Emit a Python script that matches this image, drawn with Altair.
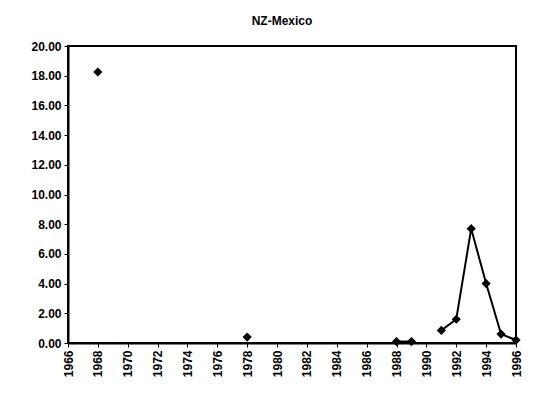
import altair as alt
import pandas as pd

years = [1968, 1978, 1988, 1989, 1991, 1992, 1993, 1994, 1995, 1996]
values = [18.25, 0.4, 0.1, 0.1, 0.85, 1.6, 7.7, 4.0, 0.6, 0.2]
segments = ["a", "b", "c", "c", "d", "d", "d", "d", "d", "d"]
x_ticks = list(range(1966, 1997, 2))
y_ticks = [0, 2, 4, 6, 8, 10, 12, 14, 16, 18, 20]

df = pd.DataFrame({"year": years, "value": values, "seg": segments})

FONT = "Liberation Sans"

x = alt.X("year:Q", scale=alt.Scale(domain=[1966, 1996], nice=False, zero=False),
          axis=alt.Axis(values=x_ticks, format="d", labelAngle=270, title=None,
                        labelFont=FONT, labelFontWeight="bold", labelFontSize=12,
                        labelColor="black", domainColor="black", domainWidth=2,
                        tickColor="black", tickSize=4, labelPadding=3, grid=False))
y = alt.Y("value:Q", scale=alt.Scale(domain=[0, 20], nice=False),
          axis=alt.Axis(values=y_ticks, format=".2f", title=None,
                        labelFont=FONT, labelFontWeight="bold", labelFontSize=12,
                        labelColor="black", domainColor="black", domainWidth=2,
                        tickColor="black", tickSize=4, labelPadding=3, grid=False))

line = alt.Chart(df).mark_line(color="black", strokeWidth=2).encode(
    x=x, y=y, detail="seg:N")
pts = alt.Chart(df).mark_point(shape="diamond", filled=True, color="black",
                               opacity=1, size=85).encode(x=x, y=y)

chart = alt.layer(line, pts).properties(
    width=448, height=297,
    title=alt.TitleParams("NZ-Mexico", font=FONT, fontSize=12, fontWeight="bold",
                          color="black", anchor="middle", offset=12, dx=-10),
    autosize=alt.AutoSizeParams(type="none"),
    padding={"left": 60, "top": 38, "right": 17, "bottom": 40},
    background="white",
).configure_view(stroke="black", strokeWidth=2)

chart.save("out.html", embed_options={"renderer": "svg", "actions": False})
